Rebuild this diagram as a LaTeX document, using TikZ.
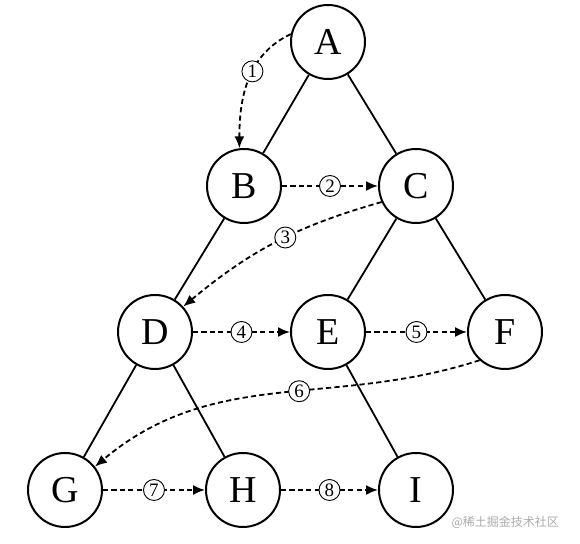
\documentclass[tikz,border=0pt]{standalone}
\usepackage{fontspec}
\usepackage{tikz}
\usetikzlibrary{arrows.meta}
\setmainfont{Liberation Serif}
\newfontfamily\cjk{Noto Sans CJK SC}
\definecolor{markgray}{RGB}{170,170,170}

\begin{document}
\begin{tikzpicture}[x=0.5pt,y=-0.5pt,
  vtx/.style={draw,circle,line width=1pt,minimum size=37pt,inner sep=0pt,
              font=\fontsize{19}{21}\selectfont},
  tree/.style={line width=0.9pt},
  trav/.style={line width=0.9pt,dash pattern=on 2.6pt off 1.6pt,
               -{Latex[length=6pt,width=5pt]}},
  num/.style={draw,solid,circle,fill=white,line width=0.45pt,inner sep=0.6pt,
              minimum size=10.5pt,font=\fontsize{9.5}{10}\selectfont}]
\useasboundingbox (0,0) rectangle (580,544);
% vertices
\node[vtx] (A) at (328,42)  {A};
\node[vtx] (B) at (244,186) {B};
\node[vtx] (C) at (416,186) {C};
\node[vtx] (D) at (155,332) {D};
\node[vtx] (E) at (328,332) {E};
\node[vtx] (F) at (505,332) {F};
\node[vtx] (G) at (65,490)  {G};
\node[vtx] (H) at (243,490) {H};
\node[vtx] (I) at (416,490) {I};
% tree edges
\draw[tree] (A) -- (B);
\draw[tree] (A) -- (C);
\draw[tree] (B) -- (D);
\draw[tree] (C) -- (E);
\draw[tree] (C) -- (F);
\draw[tree] (D) -- (G);
\draw[tree] (D) -- (H);
\draw[tree] (E) -- (I);
% traversal order
\draw[trav] (A.168) to[out=205,in=90] node[num,pos=0.42] {1} (B.97);
\draw[trav] (B) -- node[num] {2} (C);
\draw[trav] (C.205) to[bend right=12] node[num,pos=0.45] {3} (D.42);
\draw[trav] (D) -- node[num] {4} (E);
\draw[trav] (E) -- node[num] {5} (F);
\draw[trav] (F.228) to[out=198,in=40] node[num,pos=0.44] {6} (G.38);
\draw[trav] (G) -- node[num] {7} (H);
\draw[trav] (H) -- node[num] {8} (I);
% watermark
\node[text=markgray,font=\cjk\fontsize{6}{7}\selectfont,anchor=east] (mark)
   at (566,522) {@稀土掘金技术社区};
\end{tikzpicture}
\end{document}
